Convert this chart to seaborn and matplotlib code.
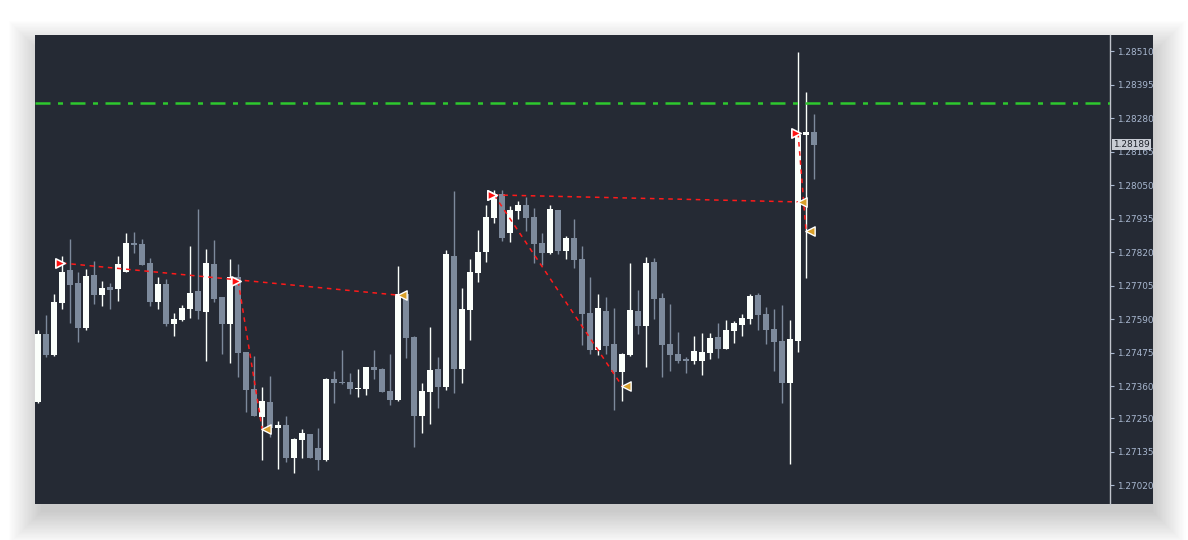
import numpy as np
import pandas as pd
import matplotlib
matplotlib.use("Agg")
import matplotlib.pyplot as plt
from matplotlib.patches import Rectangle
import seaborn as sns

# OHLC, in points (1e-5)
opens = [127305, 127538, 127466, 127645, 127758, 127714, 127559, 127741, 127672, 127700,
         127693, 127751, 127851, 127847, 127782, 127648, 127710, 127573, 127587, 127624,
         127686, 127614, 127779, 127666, 127573, 127734, 127477, 127350, 127254, 127305,
         127216, 127226, 127113, 127175, 127195, 127147, 127106, 127384, 127374, 127374,
         127350, 127350, 127425, 127418, 127343, 127312, 127676, 127528, 127257, 127339,
         127418, 127357, 127806, 127418, 127621, 127748, 127820, 127937, 128019, 127885,
         127961, 127981, 127940, 127851, 127817, 127964, 127823, 127868, 127796, 127611,
         127484, 127617, 127504, 127408, 127466, 127617, 127566, 127786, 127662, 127504,
         127470, 127453, 127446, 127446, 127473, 127528, 127487, 127549, 127569, 127590,
         127672, 127607, 127556, 127514, 127370, 127514, 128222, 128232]
highs = [127552, 127604, 127676, 127806, 127865, 127751, 127762, 127789, 127720, 127714,
         127806, 127885, 127889, 127865, 127799, 127734, 127727, 127611, 127638, 127841,
         127968, 127830, 127861, 127666, 127796, 127779, 127477, 127463, 127357, 127394,
         127240, 127257, 127181, 127212, 127195, 127216, 127387, 127411, 127484, 127405,
         127418, 127425, 127484, 127422, 127470, 127772, 127676, 127532, 127370, 127563,
         127459, 127827, 128029, 127696, 127796, 127896, 127981, 128033, 128033, 127978,
         127995, 128009, 127971, 127885, 127981, 127964, 127875, 127933, 127841, 127734,
         127676, 127666, 127628, 127473, 127782, 127690, 127803, 127799, 127679, 127641,
         127545, 127459, 127532, 127542, 127542, 127576, 127587, 127583, 127607, 127676,
         127679, 127631, 127624, 127638, 127587, 128507, 128369, 128294]
lows = [127302, 127459, 127463, 127624, 127576, 127511, 127552, 127641, 127635, 127624,
        127652, 127751, 127817, 127775, 127635, 127624, 127566, 127532, 127583, 127593,
        127590, 127446, 127648, 127470, 127439, 127391, 127271, 127257, 127106, 127185,
        127075, 127099, 127061, 127113, 127113, 127072, 127102, 127302, 127367, 127333,
        127322, 127329, 127384, 127339, 127295, 127308, 127456, 127151, 127199, 127230,
        127284, 127346, 127336, 127370, 127518, 127717, 127786, 127920, 127858, 127854,
        127933, 127892, 127782, 127775, 127813, 127813, 127796, 127765, 127501, 127470,
        127466, 127470, 127278, 127308, 127463, 127538, 127425, 127590, 127391, 127411,
        127439, 127405, 127436, 127398, 127453, 127456, 127487, 127508, 127532, 127573,
        127552, 127504, 127411, 127302, 127092, 127477, 127731, 128071]
closes = [127538, 127466, 127648, 127751, 127707, 127559, 127738, 127672, 127696, 127690,
          127779, 127851, 127844, 127775, 127648, 127710, 127573, 127590, 127628, 127679,
          127617, 127782, 127659, 127573, 127734, 127473, 127346, 127257, 127308, 127216,
          127226, 127113, 127178, 127199, 127113, 127106, 127384, 127370, 127370, 127350,
          127353, 127425, 127415, 127339, 127312, 127676, 127525, 127257, 127343, 127415,
          127357, 127813, 127418, 127624, 127751, 127820, 127940, 128019, 127868, 127964,
          127981, 127937, 127847, 127817, 127968, 127823, 127868, 127793, 127607, 127484,
          127628, 127497, 127408, 127470, 127621, 127566, 127782, 127659, 127501, 127466,
          127446, 127446, 127480, 127477, 127525, 127487, 127552, 127576, 127593, 127669,
          127604, 127552, 127511, 127370, 127521, 128222, 128232, 128189]

# trades: entry bar, entry price, exit bar, exit price (points)
trade_entry_bar = [3, 25, 57, 57, 95]
trade_entry_px = [127782, 127720, 128016, 128016, 128229]
trade_exit_bar = [45, 28, 95, 73, 96]
trade_exit_px = [127672, 127212, 127992, 127360, 127892]

level_px = 128333
last_px = 128189
tick_labels = ["1.28510", "1.28395", "1.28280", "1.28165", "1.28050", "1.27935", "1.27820",
               "1.27705", "1.27590", "1.27475", "1.27360", "1.27250", "1.27135", "1.27020"]

pt = 1e-5
df = pd.DataFrame({"open": np.array(opens) * pt, "high": np.array(highs) * pt,
                   "low": np.array(lows) * pt, "close": np.array(closes) * pt})
df["bar"] = np.arange(len(df))
df["bull"] = df["close"] >= df["open"]

bg = "#252a34"
bull_col = "#fbfffb"
bear_col = "#7d8a9c"
tick_col = "#a9b8d0"

sns.set_style("dark", {"axes.facecolor": bg})
plt.rcParams["font.family"] = ["DejaVu Sans"]

W, H = 1188, 540
fig = plt.figure(figsize=(W / 100, H / 100), dpi=100)
fig.patch.set_facecolor("white")

# soft drop shadow (offset down-right) + dark panel
px0, py0, px1, py1 = 35, 35, 1153, 504
for i in range(26):
    g = i * 1.3
    fig.patches.append(Rectangle(((px0 - g + 6) / W, 1 - (py1 + g + 8) / H),
                                 (px1 - px0 + 2 * g - 6) / W, (py1 - py0 + 2 * g - 10) / H,
                                 transform=fig.transFigure, facecolor="black",
                                 alpha=0.006, edgecolor="none", zorder=0))
fig.patches.append(Rectangle((px0 / W, 1 - py1 / H), (px1 - px0) / W, (py1 - py0) / H,
                             transform=fig.transFigure, facecolor=bg, edgecolor="none", zorder=1))

ax = fig.add_axes([px0 / W, 1 - py1 / H, (1110 - px0) / W, (py1 - py0) / H])
ax.set_facecolor(bg)
ax.set_zorder(2)

# candles
colors = np.where(df["bull"], bull_col, bear_col)
ax.vlines(df["bar"], df["low"], df["high"], colors=colors, linewidth=1.0, zorder=2)
body_lo = np.minimum(df["open"], df["close"])
body_h = np.maximum((df["close"] - df["open"]).abs(), 0.00003)
ax.bar(df["bar"], body_h, bottom=body_lo, width=0.75, color=colors, linewidth=0, zorder=3)

# green level line
ax.axhline(level_px * pt, color="#2ec82e", linewidth=1.8, dashes=(6, 3, 2, 3), zorder=4)

# trade lines and markers
for eb, ep, xb, xp in zip(trade_entry_bar, trade_entry_px, trade_exit_bar, trade_exit_px):
    ax.plot([eb, xb], [ep * pt, xp * pt], color="#ff1a1a",
            linewidth=1.1, dashes=(3, 3), zorder=5)
entries = pd.DataFrame({"x": np.array(trade_entry_bar) - 0.3,
                        "y": np.array(trade_entry_px) * pt})
exits = pd.DataFrame({"x": np.array(trade_exit_bar) + 0.45,
                      "y": np.array(trade_exit_px) * pt})
sns.scatterplot(data=entries, x="x", y="y", marker=">", s=45, color="#ff1010",
                edgecolor="white", linewidth=1.2, ax=ax, zorder=6)
sns.scatterplot(data=exits, x="x", y="y", marker="<", s=45, color="#d9a02a",
                edgecolor="white", linewidth=1.0, ax=ax, zorder=6)

ax.set_xlim(-0.4, 134)
ax.set_ylim(1.26955, 1.28565)
ax.set_xlabel("")
ax.set_ylabel("")
ax.set_xticks([])
ax.yaxis.tick_right()
ax.set_yticks([float(t) for t in tick_labels])
ax.set_yticklabels(tick_labels)
ax.tick_params(axis="y", colors=tick_col, labelsize=6.4, length=3, width=0.8, pad=2)
for s in ["top", "left", "bottom"]:
    ax.spines[s].set_visible(False)
ax.spines["right"].set_visible(True)
ax.spines["right"].set_color("#c0c4cc")
ax.spines["right"].set_linewidth(1.0)
ax.grid(False)

# last price tag
ax.annotate(f"{last_px * pt:.5f}", xy=(1.003, last_px * pt),
            xycoords=("axes fraction", "data"), va="center", ha="left",
            fontsize=6.4, color="#1c2028", annotation_clip=False,
            bbox=dict(boxstyle="square,pad=0.15", facecolor="#c8ccd4", edgecolor="none"))

fig.savefig("out.png", dpi=100, facecolor=fig.get_facecolor())
